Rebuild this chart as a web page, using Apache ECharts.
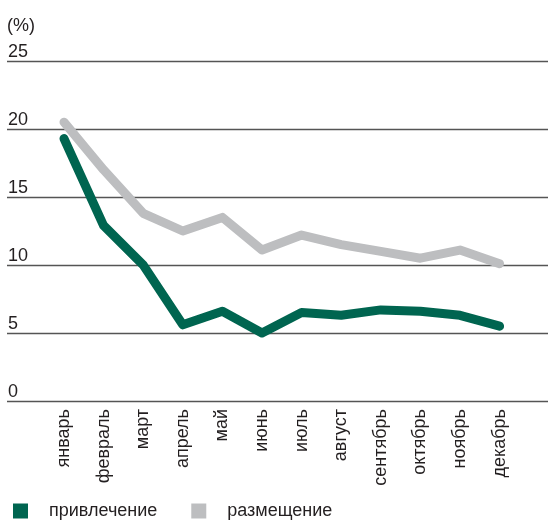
<!DOCTYPE html>
<html>
<head>
<meta charset="utf-8">
<script src="https://cdn.jsdelivr.net/npm/echarts@6/dist/echarts.min.js"></script>
<style>
  html, body { margin: 0; padding: 0; background: #fff; }
  #chart { width: 548px; height: 526px; }
</style>
</head>
<body>
<div id="chart"></div>
<script>
const months = ['январь', 'февраль', 'март', 'апрель', 'май', 'июнь', 'июль', 'август', 'сентябрь', 'октябрь', 'ноябрь', 'декабрь']
const attraction = [19.3, 12.9, 10.0, 5.6, 6.6, 5.0, 6.5, 6.3, 6.7, 6.6, 6.3, 5.5]
const placement = [20.5, 17.0, 13.8, 12.5, 13.5, 11.1, 12.2, 11.5, 11.0, 10.5, 11.1, 10.1]
const seriesNames = ['привлечение', 'размещение']

const font = 'Liberation Sans, Arial, sans-serif'
const textColor = '#231f20'

const chart = echarts.init(document.getElementById('chart'), null, { renderer: 'canvas' })

// grid 0 only draws the full-width gridlines and the y labels,
// grid 1 holds the lines so the months sit where they do in the picture
const option = {
  animation: false,
  backgroundColor: '#fff',
  textStyle: { fontFamily: font },
  legend: {
    left: 8,
    top: 497,
    icon: 'rect',
    itemWidth: 15,
    itemHeight: 15,
    itemGap: 34,
    selectedMode: false,
    textStyle: {
      fontFamily: font,
      fontSize: 18,
      color: textColor,
      padding: [0, 0, 0, 16],
    },
    data: seriesNames,
  },
  grid: [
    { left: 7, right: 0, top: 61, bottom: 125 },
    { left: 44.2, right: 28.6, top: 61, bottom: 125 },
  ],
  xAxis: [
    { gridIndex: 0, type: 'value', show: false, min: 0, max: 1 },
    {
      gridIndex: 1,
      type: 'category',
      data: months,
      boundaryGap: true,
      axisLine: { show: false },
      axisTick: { show: false },
      axisLabel: {
        rotate: 90,
        margin: 8,
        fontSize: 18,
        fontFamily: font,
        color: textColor,
        interval: 0,
      },
    },
  ],
  yAxis: [
    {
      gridIndex: 0,
      type: 'value',
      min: 0,
      max: 25,
      interval: 5,
      name: '(%)',
      nameLocation: 'end',
      nameGap: 35,
      nameTextStyle: {
        fontSize: 18,
        fontFamily: font,
        color: textColor,
        align: 'left',
        verticalAlign: 'middle',
      },
      axisLine: { show: false },
      axisTick: { show: false },
      axisLabel: {
        inside: true,
        margin: 1,
        fontSize: 18,
        fontFamily: font,
        color: textColor,
        verticalAlign: 'bottom',
      },
      splitLine: { lineStyle: { color: '#555', width: 1.3 } },
    },
    { gridIndex: 1, type: 'value', min: 0, max: 25, show: false },
  ],
  series: [
    {
      name: seriesNames[1],
      type: 'line',
      xAxisIndex: 1,
      yAxisIndex: 1,
      data: placement,
      showSymbol: false,
      symbol: 'none',
      itemStyle: { color: '#bdbec0' },
      lineStyle: { color: '#bdbec0', width: 9, cap: 'round', join: 'round' },
    },
    {
      name: seriesNames[0],
      type: 'line',
      xAxisIndex: 1,
      yAxisIndex: 1,
      data: attraction,
      showSymbol: false,
      symbol: 'none',
      itemStyle: { color: '#006550' },
      lineStyle: { color: '#006550', width: 9, cap: 'round', join: 'round' },
    },
  ],
}

chart.setOption(option)
</script>
</body>
</html>
